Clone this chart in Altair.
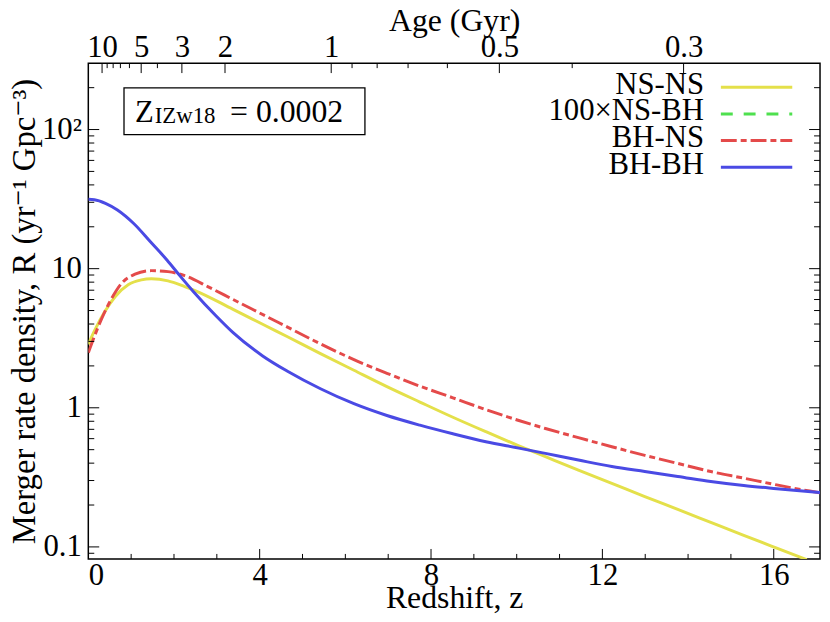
import altair as alt
import numpy as np
import pandas as pd

# ---------------- data ----------------
z_nsns = [0, 0.16, 0.39, 0.63, 0.93, 1.24, 1.47, 1.86, 2.25, 2.45, 3.38, 4.15, 4.65, 5.42,
          6.20, 6.97, 7.74, 8.51, 9.28, 10.05, 10.67, 11.44, 12.22, 12.99, 13.76, 14.53,
          15.30, 16.07, 16.77]
r_nsns = [2.86, 3.66, 4.94, 6.31, 7.65, 8.3, 8.45, 8.17, 7.44, 7.05, 5.1, 3.87, 3.24, 2.45,
          1.86, 1.42, 1.10, 0.855, 0.673, 0.533, 0.445, 0.356, 0.286, 0.230, 0.186, 0.150,
          0.121, 0.098, 0.081]

z_bhns = [0, 0.16, 0.32, 0.55, 0.78, 1.09, 1.47, 1.86, 2.25, 2.8, 3.38, 4.15, 4.65, 5.42,
          6.20, 6.97, 7.74, 8.51, 9.28, 10.05, 10.67, 11.44, 12.22, 12.99, 13.76, 14.53,
          15.30, 16.07, 16.84, 17.08]
r_bhns = [2.49, 3.37, 4.43, 6.15, 7.87, 9.12, 9.68, 9.52, 8.91, 7.4, 6.0, 4.55, 3.8, 2.88,
          2.22, 1.77, 1.43, 1.18, 0.97, 0.81, 0.71, 0.61, 0.525, 0.455, 0.398, 0.348,
          0.312, 0.279, 0.252, 0.245]

z_bhbh = [0, 0.14, 0.4, 0.68, 1.06, 1.45, 1.84, 2.15, 2.45, 2.99, 3.38, 4.07, 4.65, 5.42,
          6.20, 6.97, 7.74, 8.51, 9.28, 10.05, 10.67, 11.44, 12.22, 12.99, 13.76, 14.53,
          15.30, 16.07, 17.08]
r_bhbh = [31.5, 31.3, 29.5, 26.4, 21.1, 15.6, 11.5, 8.8, 6.86, 4.55, 3.47, 2.36, 1.83, 1.37,
          1.07, 0.88, 0.75, 0.65, 0.57, 0.513, 0.47, 0.421, 0.378, 0.348, 0.321, 0.295,
          0.276, 0.262, 0.246]

series_names = ["NS-NS", "100×NS-BH", "BH-NS", "BH-BH"]
series_colors = ["#e4e04a", "#4ee04e", "#e44a4a", "#4a4ae4"]
series_dashes = [None, [12, 11], [16, 4, 6, 4], None]

x_major = [0, 4, 8, 12, 16]
x_minor = [1, 2, 3, 5, 6, 7, 9, 10, 11, 13, 14, 15]
y_major = [0.1, 1, 10, 100]
y_minor = [0.09, 0.2, 0.3, 0.4, 0.5, 0.6, 0.7, 0.8, 0.9, 2, 3, 4, 5, 6, 7, 8, 9,
           20, 30, 40, 50, 60, 70, 80, 90, 200]
age_major = [10, 5, 3, 2, 1, 0.5, 0.3]
age_major_labels = ["10", "5", "3", "2", "1", "0.5", "0.3"]
age_minor = [9, 8, 7, 6, 4, 0.9, 0.8, 0.7, 0.6, 0.4]

box_value = "= 0.0002"

# flat LCDM age -> redshift (for the top axis)
H0, Om = 69.0, 0.30
OL = 1 - Om
tH = 977.8 / H0


def z_of_age(t):
    t = np.asarray(t, dtype=float)
    s = np.sinh(1.5 * np.sqrt(OL) * t / tH) / np.sqrt(OL / Om)
    return s ** (-2.0 / 3.0) - 1.0


# ---------------- chart ----------------
W, H = 738, 500
FONT = "Liberation Serif, DejaVu Serif, Times New Roman, serif"
FS = 31
TFS = 32

xs = alt.Scale(domain=[0, 17.08], nice=False, zero=False)
ys = alt.Scale(type="log", domain=[0.082, 300], nice=False)


def curve(z, r, color, dash=None):
    kw = dict(color=color, strokeWidth=3, interpolate="monotone", clip=True)
    if dash:
        kw["strokeDash"] = dash
    return alt.Chart(pd.DataFrame({"z": z, "r": r})).mark_line(**kw).encode(
        x=alt.X("z:Q", scale=xs, axis=None),
        y=alt.Y("r:Q", scale=ys, axis=None),
    )


# main axes (labels only, frame drawn by view stroke)
axes_df = pd.DataFrame({"z": x_major, "r": [1] * len(x_major)})
y_expr = ("datum.value >= 99 ? '10²' : datum.value >= 9 ? '10' : "
          "datum.value >= 0.9 ? '1' : '0.1'")
axes_main = alt.Chart(axes_df).mark_point(opacity=0).encode(
    x=alt.X("z:Q", scale=xs, axis=alt.Axis(
        values=x_major, format="d", ticks=False, tickSize=0, domain=False, grid=False,
        labelPadding=2, title="Redshift, z", titlePadding=-8)),
    y=alt.Y("r:Q", scale=ys, axis=alt.Axis(
        values=y_major, labelExpr=y_expr, ticks=False, tickSize=0, domain=False, grid=False,
        labelPadding=7, title="Merger rate density, R (yr⁻¹ Gpc⁻³)", titlePadding=0,
        titleFontSize=33)),
)

# top (age) axis + ticks
zt_major = [float(v) for v in z_of_age(age_major)]
zt_minor = [float(v) for v in z_of_age(age_minor)]
top_expr = "".join(
    f"abs(datum.value - {zv:.6f}) < 0.001 ? '{lab}' : "
    for zv, lab in zip(zt_major, age_major_labels)) + "''"
top_major = alt.Chart(pd.DataFrame({"z": zt_major})).mark_rule(
    color="black", strokeWidth=1).encode(
    x=alt.X("z:Q", scale=xs, axis=alt.Axis(
        orient="top", values=zt_major, labelExpr=top_expr, ticks=False, tickSize=0,
        domain=False, grid=False, labelPadding=0, title="Age (Gyr)", titlePadding=-6)),
    y=alt.value(0), y2=alt.value(10),
)
top_minor = alt.Chart(pd.DataFrame({"z": zt_minor})).mark_rule(
    color="black", strokeWidth=1).encode(
    x=alt.X("z:Q", scale=xs, axis=None), y=alt.value(0), y2=alt.value(5))

# bottom ticks
bot_major = alt.Chart(pd.DataFrame({"z": x_major[1:]})).mark_rule(
    color="black", strokeWidth=1).encode(
    x=alt.X("z:Q", scale=xs, axis=None), y=alt.value(H), y2=alt.value(H - 10))
bot_minor = alt.Chart(pd.DataFrame({"z": x_minor})).mark_rule(
    color="black", strokeWidth=1).encode(
    x=alt.X("z:Q", scale=xs, axis=None), y=alt.value(H), y2=alt.value(H - 5))

# left / right ticks
ticks = []
for vals, ln in ((y_major, 11), (y_minor, 6)):
    d = pd.DataFrame({"r": vals})
    ticks.append(alt.Chart(d).mark_rule(color="black", strokeWidth=1).encode(
        y=alt.Y("r:Q", scale=ys, axis=None), x=alt.value(0), x2=alt.value(ln)))
    ticks.append(alt.Chart(d).mark_rule(color="black", strokeWidth=1).encode(
        y=alt.Y("r:Q", scale=ys, axis=None), x=alt.value(W), x2=alt.value(W - ln)))

one = pd.DataFrame({"a": [0]})

# metallicity box
box = alt.Chart(one).mark_rect(fill="white", stroke="black", strokeWidth=1.3).encode(
    x=alt.value(36), x2=alt.value(279), y=alt.value(25), y2=alt.value(72))
box_z = alt.Chart(one).mark_text(font=FONT, fontSize=31, align="left", baseline="alphabetic",
                                 color="black").encode(
    x=alt.value(47), y=alt.value(59), text=alt.value("Z"))
box_sub = alt.Chart(one).mark_text(font=FONT, fontSize=23, align="left",
                                   baseline="alphabetic", color="black").encode(
    x=alt.value(67), y=alt.value(60), text=alt.value("IZw18"))
box_val = alt.Chart(one).mark_text(font=FONT, fontSize=32, align="left",
                                   baseline="alphabetic", color="black").encode(
    x=alt.value(143), y=alt.value(59), text=alt.value(box_value))

# manual legend (labels to the left of the samples)
legend_layers = []
LEG_Y0, LEG_DY = 24.3, 26.9
for i, (nm, col, dsh) in enumerate(zip(series_names, series_colors, series_dashes)):
    yy = LEG_Y0 + i * LEG_DY
    rk = dict(color=col, strokeWidth=3)
    if dsh:
        rk["strokeDash"] = dsh
    legend_layers.append(alt.Chart(one).mark_rule(**rk).encode(
        x=alt.value(638), x2=alt.value(710), y=alt.value(yy)))
    legend_layers.append(alt.Chart(one).mark_text(
        font=FONT, fontSize=FS, align="right", baseline="alphabetic", color="black").encode(
        x=alt.value(621), y=alt.value(yy + 6.5), text=alt.value(nm)))

lines = [
    curve(z_nsns, r_nsns, series_colors[0]),
    curve(z_bhns, r_bhns, series_colors[2], series_dashes[2]),
    curve(z_bhbh, r_bhbh, series_colors[3]),
]

chart = alt.layer(
    axes_main, *lines, top_major, top_minor, bot_major, bot_minor, *ticks,
    box, box_z, box_sub, box_val, *legend_layers,
).resolve_axis(x="independent", y="independent").properties(
    width=W, height=H,
    autosize=alt.AutoSizeParams(type="none"),
    padding={"left": 81, "top": 53, "right": 2, "bottom": 60},
).configure_view(stroke="black", strokeWidth=1.5).configure_axis(
    labelFont=FONT, labelFontSize=FS, titleFont=FONT, titleFontSize=TFS,
    titleFontWeight="normal", labelColor="black", titleColor="black",
)

chart.save("out.html", embed_options={"renderer": "svg", "actions": False})
